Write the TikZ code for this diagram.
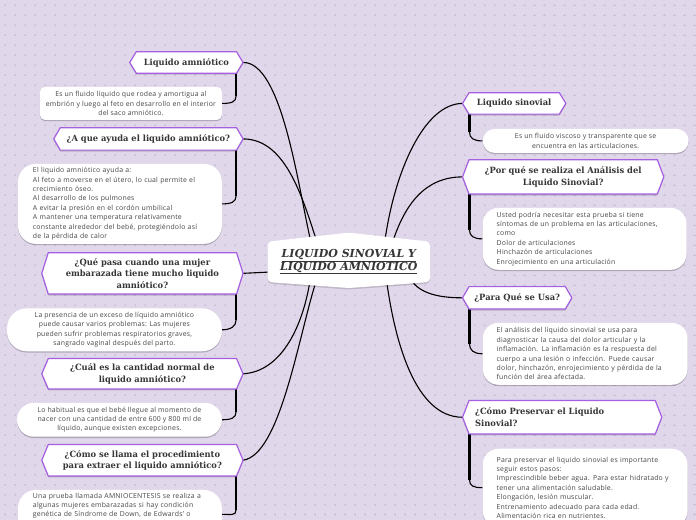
\documentclass[tikz,border=0pt]{standalone}
\usepackage{fontspec}
\setmainfont{Open Sans}[LetterSpace=3]
\newfontfamily\titlefont{DejaVu Serif}[FakeStretch=0.97]
\newfontfamily\centerfont{DejaVu Serif}
\usetikzlibrary{shadows,calc}
\pgfdeclarelayer{bg}\pgfdeclarelayer{lines}\pgfdeclarelayer{mid}
\pgfsetlayers{bg,lines,mid,main}
\definecolor{bgc}{HTML}{E1D7EA}
\definecolor{dotc}{HTML}{CDC1D8}
\definecolor{hexc}{HTML}{A55FE0}
\definecolor{tc}{HTML}{363636}
\definecolor{bc}{HTML}{474747}
\tikzset{
 hexlabel/.style={inner sep=0pt, font=\titlefont\bfseries\fontsize{8.6}{11.5}\selectfont, text=tc, align=center},
 hexshape/.style={draw=hexc, line width=1.2pt, fill=white, line join=round},
 descbox/.style={fill=white, inner sep=0pt, font=\fontsize{6.9}{9.4}\selectfont, text=bc,
   drop shadow={shadow xshift=0pt, shadow yshift=-1.3pt, opacity=0.22, fill=black}},
 link/.style={draw=black, line width=1.1pt},
 bar/.style={draw=black, line width=2.3pt},
 stem/.style={draw=black, line width=1.1pt},
}
\newcommand\hexdraw[1]{%
\begin{pgfonlayer}{mid}
\fill[black, opacity=0.18] ([yshift=-1.5pt]#1.north west) -- ([yshift=-1.5pt]#1.north east) -- ([xshift=6.5pt,yshift=-1.5pt]#1.east) -- ([yshift=-1.5pt]#1.south east) -- ([yshift=-1.5pt]#1.south west) -- ([xshift=-6.5pt,yshift=-1.5pt]#1.west) -- cycle;
\path[hexshape] (#1.north west) -- (#1.north east) -- ([xshift=6.5pt]#1.east) -- (#1.south east) -- (#1.south west) -- ([xshift=-6.5pt]#1.west) -- cycle;
\end{pgfonlayer}}
\begin{document}
\begin{tikzpicture}[x=1pt,y=-1pt]
\begin{pgfonlayer}{bg}
\fill[bgc] (0,0) rectangle (696,520);
\draw[dotc, line width=0.45pt] foreach \i in {0,...,69} { foreach \j in {0,...,51} { (5+10*\i-1.2, 5+10*\j) -- ++(2.4,0) (5+10*\i, 5+10*\j-1.2) -- ++(0,2.4) } };
\end{pgfonlayer}
\useasboundingbox (0,0) rectangle (696,520);

% center
\node[inner sep=0pt, minimum width=162pt, minimum height=40pt, font=\centerfont\bfseries\itshape\fontsize{11}{13}\selectfont, text=tc, align=center] (c) at (349,262) {\underline{LIQUIDO SINOVIAL Y}\\[-0.5pt]\underline{LIQUIDO AMNIOTICO}};
\begin{pgfonlayer}{mid}
\fill[black, opacity=0.15, rounded corners=4pt] ([yshift=-1.5pt]c.north west) -- ([yshift=7.5pt]c.north) -- ([yshift=-1.5pt]c.north east) -- ([yshift=-1.5pt]c.south east) -- ([yshift=-7.5pt]c.south) -- ([yshift=-1.5pt]c.south west) -- cycle;
\fill[white, rounded corners=4pt] (c.north west) -- ([yshift=9pt]c.north) -- (c.north east) -- (c.south east) -- ([yshift=-6pt]c.south) -- (c.south west) -- cycle;
\end{pgfonlayer}

% left titles
\node[hexlabel, minimum width=100pt, minimum height=21pt] (h1) at (186.5,62.5) {Liquido amniótico};
\node[hexlabel, minimum width=176pt, minimum height=22pt] (h2) at (148.5,139) {¿A que ayuda el liquido amniótico?};
\node[hexlabel, minimum width=188pt, minimum height=41pt] (h3) at (142.5,273.5) {¿Qué pasa cuando una mujer\\ embarazada tiene mucho liquido\\ amniótico?};
\node[hexlabel, minimum width=188pt, minimum height=30pt] (h4) at (142.5,374) {¿Cuál es la cantidad normal de\\ liquido amniótico?};
\node[hexlabel, minimum width=188pt, minimum height=31pt] (h5) at (142.5,460.5) {¿Cómo se llama el procedimiento\\ para extraer el liquido amniótico?};
% right titles
\node[hexlabel, minimum width=90pt, minimum height=21pt] (h6) at (514.5,103.5) {Liquido sinovial};
\node[hexlabel, minimum width=188pt, minimum height=34pt] (h7) at (563.5,177) {¿Por qué se realiza el Análisis del\\ Liquido Sinovial?};
\node[hexlabel, minimum width=96pt, minimum height=22pt] (h8) at (517.5,298) {¿Para Qué se Usa?};
\node[hexlabel, align=left, text width=174pt, inner xsep=6pt, minimum height=33pt] (h9) at (562.5,417.5) {¿Cómo Preservar el Liquido\\ Sinovial?};
\hexdraw{h1}\hexdraw{h2}\hexdraw{h3}\hexdraw{h4}\hexdraw{h5}
\hexdraw{h6}\hexdraw{h7}\hexdraw{h8}\hexdraw{h9}

% descriptions
\node[descbox, align=center, minimum width=182pt, minimum height=33pt, rounded corners=5pt] (d1) at (131,103.5) {Es un fluido líquido que rodea y amortigua al\\ embrión y luego al feto en desarrollo en el interior\\ del saco amniótico.};
\node[descbox, align=left, text width=174pt, inner xsep=15pt, minimum height=80pt, rounded corners=18pt] (d2) at (120,204) {El liquido amniótico ayuda a:\\ Al feto a moverse en el útero, lo cual permite el\\ crecimiento óseo.\\ Al desarrollo de los pulmones\\ A evitar la presión en el cordón umbilical\\ A mantener una temperatura relativamente\\ constante alrededor del bebé, protegiéndolo así\\ de la pérdida de calor};
\node[descbox, align=center, minimum width=215pt, minimum height=43pt, rounded corners=20pt] (d3) at (114.5,330) {La presencia de un exceso de líquido amniótico\\ puede causar varios problemas: Las mujeres\\ pueden sufrir problemas respiratorios graves,\\ sangrado vaginal después del parto.};
\node[descbox, align=center, minimum width=205pt, minimum height=34pt, rounded corners=17pt] (d4) at (119.5,420) {Lo habitual es que el bebé llegue al momento de\\ nacer con una cantidad de entre 600 y 800 ml de\\ líquido, aunque existen excepciones.};
\node[descbox, align=left, text width=174pt, inner xsep=15pt, inner ysep=3pt, anchor=north, rounded corners=18pt] (d5) at (120,490) {Una prueba llamada AMNIOCENTESIS se realiza a\\ algunas mujeres embarazadas si hay condición\\ genética de Síndrome de Down, de Edwards' o\\ \mbox{}\\ \mbox{}};
\node[descbox, align=center, minimum width=206pt, minimum height=24pt, rounded corners=12pt] (d6) at (586,141) {Es un fluido viscoso y transparente que se\\ encuentra en las articulaciones.};
\node[descbox, align=left, text width=176pt, inner xsep=14pt, minimum height=62pt, rounded corners=16pt] (d7) at (585,239) {Usted podría necesitar esta prueba si tiene\\ síntomas de un problema en las articulaciones,\\ como\\ Dolor de articulaciones\\ Hinchazón de articulaciones\\ Enrojecimiento en una articulación};
\node[descbox, align=left, text width=177pt, inner xsep=14pt, minimum height=62pt, rounded corners=16pt] (d8) at (585.5,354) {El análisis del líquido sinovial se usa para\\ diagnosticar la causa del dolor articular y la\\ inflamación. La inflamación es la respuesta del\\ cuerpo a una lesión o infección. Puede causar\\ dolor, hinchazón, enrojecimiento y pérdida de la\\ función del área afectada.};
\node[descbox, align=left, text width=177pt, inner xsep=14pt, minimum height=78pt, rounded corners=16pt] (d9) at (585.5,488) {Para preservar el liquido sinovial es importante\\ seguir estos pasos:\\ Imprescindible beber agua. Para estar hidratado y\\ tener una alimentación saludable.\\ Elongación, lesión muscular.\\ Entrenamiento adecuado para cada edad.\\ Alimentación rica en nutrientes.};

\begin{pgfonlayer}{lines}
% main connectors
\draw[link] ([xshift=6.5pt]h1.east) .. controls (282,62) and (298,185) .. ([xshift=-38pt]c.north);
\draw[link] ([xshift=6.5pt]h2.east) .. controls (285,139) and (302,195) .. ([xshift=-32pt]c.north);
\draw[link] ([xshift=6.5pt]h3.east) -- ([xshift=6pt,yshift=-10pt]c.west);
\draw[link] ([xshift=6.5pt]h4.east) .. controls (280,372) and (302,330) .. ([xshift=-39pt]c.south);
\draw[link] ([xshift=6.5pt]h5.east) .. controls (280,455) and (298,340) .. ([xshift=-33pt]c.south);
\draw[link] ([xshift=-6.5pt]h6.west) .. controls (425,103.5) and (395,170) .. ([xshift=36pt]c.north);
\draw[link] ([xshift=-6.5pt]h7.west) .. controls (425,177) and (405,205) .. ([xshift=44pt]c.north);
\draw[link] ([xshift=-6.5pt]h8.west) .. controls (435,298) and (418,292) .. ([xshift=61pt,yshift=4pt]c.south);
\draw[link] ([xshift=-6.5pt]h9.west) .. controls (415,417.5) and (395,340) .. ([xshift=38pt]c.south);
% stems
\draw[bar] ([xshift=-0.5pt]h1.south east) -- ++(0,23);
\draw[stem] ([xshift=-0.5pt]h1.south east) -- ++(0,23) .. controls +(0,6) and +(9,0) .. (d1.east);
\draw[bar] ([xshift=-0.5pt]h2.south east) -- ++(0,46);
\draw[stem] ([xshift=-0.5pt]h2.south east) -- ++(0,46) .. controls +(0,6) and +(9,0) .. (d2.east);
\draw[bar] ([xshift=-0.5pt]h3.south east) -- ++(0,26);
\draw[stem] ([xshift=-0.5pt]h3.south east) -- ++(0,26) .. controls +(0,6) and +(9,0) .. (d3.east);
\draw[bar] ([xshift=-0.5pt]h4.south east) -- ++(0,23);
\draw[stem] ([xshift=-0.5pt]h4.south east) -- ++(0,23) .. controls +(0,6) and +(9,0) .. (d4.east);
\draw[bar] ([xshift=-0.5pt]h5.south east) -- ++(0,34);
\draw[stem] ([xshift=-0.5pt]h5.south east) -- ++(0,34) .. controls +(0,6) and +(9,0) .. (d5.east);
\draw[bar] ([xshift=0.5pt]h6.south west) -- ++(0,18);
\draw[stem] ([xshift=0.5pt]h6.south west) -- ++(0,18) .. controls +(0,6) and +(-9,0) .. (d6.west);
\draw[bar] ([xshift=0.5pt]h7.south west) -- ++(0,36);
\draw[stem] ([xshift=0.5pt]h7.south west) -- ++(0,36) .. controls +(0,6) and +(-9,0) .. (d7.west);
\draw[bar] ([xshift=0.5pt]h8.south west) -- ++(0,35);
\draw[stem] ([xshift=0.5pt]h8.south west) -- ++(0,35) .. controls +(0,6) and +(-9,0) .. (d8.west);
\draw[bar] ([xshift=0.5pt]h9.south west) -- ++(0,46);
\draw[stem] ([xshift=0.5pt]h9.south west) -- ++(0,46) .. controls +(0,6) and +(-9,0) .. (d9.west);
\end{pgfonlayer}
\end{tikzpicture}
\end{document}
